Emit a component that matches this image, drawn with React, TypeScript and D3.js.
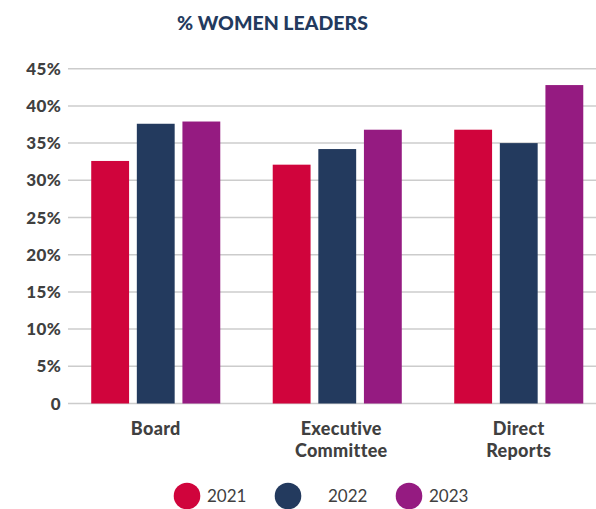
import React from "react";
import * as d3 from "d3";

const categories = [["Board"], ["Executive", "Committee"], ["Direct", "Reports"]];
const categoryKeys = ["Board", "Executive Committee", "Direct Reports"];
const years = ["2021", "2022", "2023"];
const values2021 = [32.6, 32.1, 36.8];
const values2022 = [37.6, 34.2, 35.0];
const values2023 = [37.9, 36.8, 42.8];
const yTicks = [0, 5, 10, 15, 20, 25, 30, 35, 40, 45];
const colors = ["#d0043c", "#233a5e", "#951b81"];
const legendCircleX = [187, 288, 409];
const legendTextX = [207, 328, 429];

export default function App() {
  const W = 596, H = 509;
  const series = [values2021, values2022, values2023];
  const y = d3.scaleLinear().domain([0, 45]).range([403.5, 68.7]);
  const x0 = d3.scaleBand().domain(categoryKeys).range([65, 609.5]).paddingInner(0.289).paddingOuter(0.1445);
  const x1 = d3.scaleBand().domain(years).range([0, x0.bandwidth()]).paddingInner(0.17);
  const font = "Lato, 'Open Sans', sans-serif";
  return (
    <svg width={W} height={H} style={{ position: "absolute", left: 0, top: 0, background: "#fff" }} fontFamily={font}>
      <text x={272.5} y={30} textAnchor="middle" fontSize={19.5} fontWeight={900} fill="#233a5e">% WOMEN LEADERS</text>
      {yTicks.map((t) => (
        <g key={t}>
          <line x1={68} x2={596} y1={y(t)} y2={y(t)} stroke="#cccccc" strokeWidth={1.5} />
          <text x={61} y={y(t) + 6} textAnchor="end" fontSize={17} fontWeight={900} fill="#404040" letterSpacing={0.3}>
            {t === 0 ? "0" : `${t}%`}
          </text>
        </g>
      ))}
      {categoryKeys.map((c, ci) => (
        <g key={c} transform={`translate(${x0(c)},0)`}>
          {years.map((yr, si) => (
            <rect key={yr} x={x1(yr)} y={y(series[si][ci])} width={x1.bandwidth()} height={y(0) - y(series[si][ci])} fill={colors[si]} />
          ))}
        </g>
      ))}
      {categoryKeys.map((c, ci) => {
        const cx = (x0(c) as number) + x0.bandwidth() / 2 + (ci === 1 ? 4 : 0);
        return (
          <text key={c} x={cx} y={434.5} textAnchor="middle" fontSize={18} fontWeight={900} fill="#404040" letterSpacing={0.3}>
            {categories[ci].map((line, li) => (
              <tspan key={li} x={cx} dy={li === 0 ? 0 : 22}>{line}</tspan>
            ))}
          </text>
        );
      })}
      {years.map((yr, i) => (
        <g key={yr}>
          <circle cx={legendCircleX[i]} cy={496} r={13.3} fill={colors[i]} />
          <text x={legendTextX[i]} y={502} fontSize={17} fill="#404040">{yr}</text>
        </g>
      ))}
    </svg>
  );
}
